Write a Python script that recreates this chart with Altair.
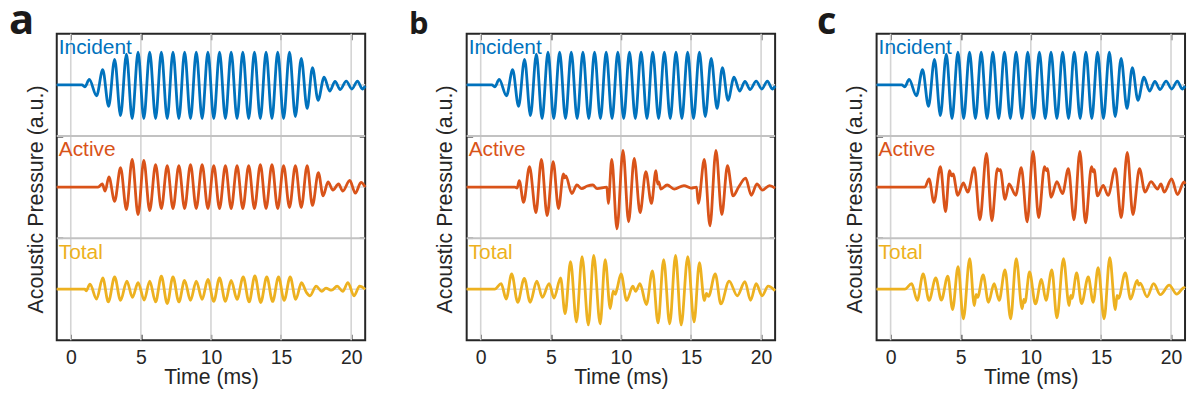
import altair as alt
import pandas as pd

# ---------------- data ----------------
TIME_TICKS = [0, 5, 10, 15, 20]
BAND_EDGES = [1, 2]
BAND_CENTERS = [0.5, 1.5, 2.5]
TRACES = ["Incident", "Active", "Total"]
TRACE_BASE = [2.5, 1.5, 0.5]
TRACE_TOP = [3, 2, 1]
TRACE_COLORS = ["#0072BD", "#D95319", "#EDB120"]
PANELS = ["a", "b", "c"]

# (time in ms, pressure in units of one band height) at the turning points
INCIDENT = [
    (-1.0, 0.0), (0.8, 0.0), (1.0, -0.02), (1.32, 0.054), (1.84, -0.106), (2.28, 0.15),
    (2.70, -0.21), (3.13, 0.25), (3.55, -0.30), (3.97, 0.30), (4.38, -0.33), (4.80, 0.32),
    (5.21, -0.33), (5.63, 0.32), (6.05, -0.33), (6.46, 0.32), (6.88, -0.33), (7.29, 0.32),
    (7.71, -0.33), (8.12, 0.32), (8.54, -0.33), (8.95, 0.32), (9.37, -0.33), (9.78, 0.32),
    (10.20, -0.33), (10.61, 0.32), (11.03, -0.33), (11.44, 0.32), (11.86, -0.33), (12.27, 0.32),
    (12.69, -0.33), (13.10, 0.32), (13.52, -0.33), (13.93, 0.32), (14.35, -0.33), (14.76, 0.32),
    (15.18, -0.33), (15.60, 0.32), (16.02, -0.31), (16.44, 0.26), (16.86, -0.23), (17.24, 0.17),
    (17.64, -0.15), (18.07, 0.075), (18.47, -0.06), (18.85, 0.035), (19.22, -0.045), (19.65, 0.038),
    (20.05, -0.04), (20.45, 0.038), (20.80, -0.04), (21.0, -0.01),
]

ACTIVE_A = [
    (-1.0, 0.0), (1.95, 0.0), (2.25, 0.03), (2.45, -0.04), (2.72, 0.10), (3.13, -0.14),
    (3.55, 0.19), (3.97, -0.22), (4.38, 0.27), (4.80, -0.27), (5.21, 0.26), (5.63, -0.23),
    (6.05, 0.22), (6.46, -0.21), (6.88, 0.21), (7.29, -0.21), (7.71, 0.21), (8.12, -0.21),
    (8.54, 0.22), (8.95, -0.21), (9.37, 0.22), (9.78, -0.21), (10.20, 0.21), (10.61, -0.21),
    (11.03, 0.21), (11.44, -0.21), (11.86, 0.21), (12.27, -0.21), (12.69, 0.21), (13.10, -0.21),
    (13.52, 0.22), (13.93, -0.21), (14.35, 0.22), (14.76, -0.21), (15.18, 0.21), (15.60, -0.20),
    (16.02, 0.21), (16.44, -0.20), (16.86, 0.21), (17.24, -0.18), (17.66, 0.14), (18.0, -0.085),
    (18.35, 0.05), (18.7, -0.03), (19.1, 0.03), (19.4, -0.04), (19.9, 0.065), (20.3, -0.06),
    (20.7, 0.045), (21.0, 0.0),
]

TOTAL_A = [
    (-1.0, 0.0), (1.0, 0.0), (1.1, -0.015), (1.37, 0.05), (1.84, -0.096), (2.28, 0.11),
    (2.68, -0.125), (3.13, 0.12), (3.55, -0.11), (4.0, 0.08), (4.40, -0.08), (4.80, 0.064),
    (5.24, -0.106), (5.63, 0.08), (6.05, -0.125), (6.46, 0.128), (6.88, -0.14), (7.29, 0.12),
    (7.71, -0.125), (8.12, 0.087), (8.54, -0.11), (8.95, 0.08), (9.37, -0.10), (9.78, 0.096),
    (10.20, -0.12), (10.61, 0.11), (11.03, -0.12), (11.44, 0.087), (11.86, -0.10), (12.30, 0.12),
    (12.72, -0.125), (13.13, 0.13), (13.55, -0.13), (13.98, 0.12), (14.40, -0.12), (14.82, 0.12),
    (15.22, -0.11), (15.65, 0.12), (16.05, -0.10), (16.46, 0.064), (16.80, -0.03), (17.06, -0.064),
    (17.5, 0.03), (17.9, -0.02), (18.2, 0.01), (18.6, -0.01), (19.0, 0.03), (19.4, -0.02),
    (19.77, 0.065), (20.2, -0.065), (20.6, 0.03), (21.0, 0.0),
]

ACTIVE_B = [
    (-1.0, 0.0), (2.45, 0.0), (2.6, -0.01), (2.75, 0.064), (3.06, -0.15), (3.48, 0.20),
    (3.94, -0.25), (4.33, 0.27), (4.74, -0.28), (5.17, 0.25), (5.55, -0.21), (5.90, 0.13),
    (6.0, 0.09), (6.07, 0.11), (6.50, -0.064), (6.86, 0.02), (7.2, -0.015), (7.6, 0.01),
    (8.0, 0.02), (8.3, -0.015), (9.0, 0.0), (9.10, -0.16), (9.35, 0.27), (9.72, -0.41),
    (10.15, 0.36), (10.55, -0.34), (10.95, 0.28), (11.37, -0.25), (11.78, 0.15), (12.18, -0.16),
    (12.50, 0.16), (12.62, 0.03), (12.70, 0.05), (12.85, -0.02), (13.3, 0.02), (13.8, -0.02),
    (14.5, 0.015), (15.0, -0.01), (15.4, 0.0), (15.52, -0.16), (15.95, 0.27), (16.35, -0.38),
    (16.78, 0.36), (17.20, -0.27), (17.60, 0.21), (18.0, -0.087), (18.4, 0.0), (18.9, 0.087),
    (19.3, -0.08), (19.7, 0.03), (20.1, -0.03), (20.6, 0.015), (21.0, -0.01),
]

TOTAL_B = [
    (-1.0, 0.0), (1.0, 0.0), (1.46, 0.054), (1.82, -0.096), (2.21, 0.15), (2.64, -0.128),
    (3.11, 0.106), (3.53, -0.128), (4.0, 0.08), (4.40, -0.08), (4.88, 0.054), (5.23, -0.087),
    (5.70, 0.11), (6.02, -0.24), (6.41, 0.27), (6.83, -0.32), (7.23, 0.32), (7.68, -0.35),
    (8.06, 0.33), (8.52, -0.34), (8.88, 0.29), (9.24, -0.19), (9.45, -0.02), (9.6, -0.05),
    (9.72, 0.0), (10.01, 0.15), (10.41, -0.11), (10.85, 0.03), (11.05, -0.02), (11.36, 0.054),
    (11.82, -0.15), (12.25, 0.18), (12.65, -0.33), (13.05, 0.29), (13.48, -0.34), (13.90, 0.33),
    (14.30, -0.35), (14.77, 0.32), (15.22, -0.32), (15.60, 0.26), (15.95, -0.11), (16.1, -0.04),
    (16.25, -0.07), (16.73, 0.15), (17.13, -0.144), (17.72, 0.08), (18.3, -0.064), (18.85, 0.074),
    (19.25, -0.11), (19.65, 0.054), (20.07, -0.064), (20.5, 0.03), (21.0, -0.016),
]

ACTIVE_C = [
    (-1.0, 0.0), (2.44, 0.0), (2.74, 0.08), (3.09, -0.15), (3.55, 0.20), (3.92, -0.24),
    (4.20, 0.16), (4.35, 0.11), (4.45, 0.13), (4.79, -0.08), (5.19, 0.04), (5.50, -0.05),
    (5.97, 0.19), (6.37, -0.32), (6.84, 0.33), (7.22, -0.33), (7.62, 0.18), (7.75, 0.16),
    (7.82, 0.17), (8.16, -0.12), (8.45, 0.03), (8.92, -0.08), (9.32, 0.19), (9.74, -0.34),
    (10.16, 0.35), (10.56, -0.30), (10.98, 0.20), (11.1, 0.16), (11.18, 0.18), (11.45, -0.10),
    (11.86, 0.054), (12.26, -0.064), (12.68, 0.18), (13.08, -0.32), (13.50, 0.35), (13.90, -0.35),
    (14.33, 0.20), (14.45, 0.15), (14.52, 0.17), (14.75, -0.087), (15.16, 0.016), (15.51, -0.08),
    (16.03, 0.18), (16.45, -0.30), (16.88, 0.34), (17.28, -0.27), (17.75, 0.18), (18.15, -0.05),
    (18.57, 0.054), (19.04, -0.02), (19.28, 0.03), (19.52, -0.05), (20.04, 0.08), (20.46, -0.074),
    (20.93, 0.05), (21.0, 0.03),
]

TOTAL_C = [
    (-1.0, 0.0), (1.02, 0.0), (1.5, 0.054), (1.9, -0.11), (2.32, 0.15), (2.74, -0.11),
    (3.22, 0.11), (3.62, -0.106), (4.08, 0.128), (4.42, -0.20), (4.81, 0.22), (5.19, -0.29),
    (5.64, 0.30), (5.97, -0.16), (6.10, -0.05), (6.2, -0.08), (6.6, 0.14), (6.98, -0.128),
    (7.38, 0.054), (7.74, -0.11), (8.16, 0.19), (8.56, -0.29), (8.96, 0.30), (9.38, -0.19),
    (9.50, -0.10), (9.58, -0.13), (9.91, 0.17), (10.33, -0.144), (10.76, 0.096), (11.08, -0.11),
    (11.50, 0.19), (11.86, -0.28), (12.33, 0.30), (12.73, -0.16), (12.85, -0.06), (12.93, -0.09),
    (13.27, 0.16), (13.62, -0.14), (14.1, 0.12), (14.45, -0.128), (14.80, 0.21), (15.23, -0.29),
    (15.63, 0.31), (16.03, -0.20), (16.15, -0.06), (16.25, -0.09), (16.74, 0.16), (17.12, -0.096),
    (17.58, 0.087), (17.7, 0.04), (17.8, 0.06), (18.29, -0.074), (18.76, 0.054), (19.24, -0.054),
    (19.87, 0.04), (20.41, -0.048), (20.93, 0.016), (21.0, 0.01),
]

LETTER_SIZES = [42, 31, 38]
LETTER_DX = [-48, -58, -60]

# ---------------- styling ----------------
FONT = "Liberation Sans"
INK = "#262626"
W, H = 310, 308


def build(letter, active, total, letter_dx, letter_size):
    rows = []
    for name, base, pts in zip(TRACES, TRACE_BASE, [INCIDENT, active, total]):
        for t, v in pts:
            rows.append({"t": t, "p": base + v, "trace": name})
    waves = pd.DataFrame(rows)
    labels = pd.DataFrame({"trace": TRACES, "t": [-1, -1, -1], "p": TRACE_TOP})

    xs = alt.Scale(domain=[-1, 21], nice=False, zero=False)
    ys = alt.Scale(domain=[0, 3], nice=False, zero=False)
    cs = alt.Scale(domain=TRACES, range=TRACE_COLORS)

    bottom_axis = alt.Axis(
        orient="bottom", values=TIME_TICKS, title="Time (ms)", domain=False, grid=False,
        tickSize=6, tickWidth=1.5, tickColor=INK, offset=-6, labelPadding=8,
        labelFont=FONT, labelFontSize=19.5, labelColor=INK,
        titleFont=FONT, titleFontSize=21.3, titleFontWeight="normal", titleColor=INK,
        titlePadding=0, labelFlush=False, minExtent=0,
    )
    top_axis = alt.Axis(
        orient="top", values=TIME_TICKS, title=None, labels=False, domain=False, grid=False,
        tickSize=6, tickWidth=1.5, tickColor=INK, offset=-6, minExtent=0, maxExtent=0,
    )
    left_axis = alt.Axis(
        orient="left", values=BAND_EDGES, title="Acoustic Pressure (a.u.)", labels=False,
        domain=False, grid=False, tickSize=6, tickWidth=1.5, tickColor=INK, offset=-6,
        titleFont=FONT, titleFontSize=21.5, titleFontWeight="normal", titleColor=INK,
        titlePadding=9, minExtent=0, maxExtent=200, titleY=166,
    )
    right_axis = alt.Axis(
        orient="right", values=BAND_EDGES, title=None, labels=False, domain=False, grid=False,
        tickSize=6, tickWidth=1.5, tickColor=INK, offset=-6, minExtent=0, maxExtent=0,
    )

    vgrid = alt.Chart(pd.DataFrame({"t": TIME_TICKS})).mark_rule(
        color="#d4d4d4", strokeWidth=1.6
    ).encode(x=alt.X("t:Q", scale=xs, axis=bottom_axis))

    cgrid = alt.Chart(pd.DataFrame({"p": BAND_CENTERS})).mark_rule(
        color="#dadada", strokeWidth=1.6
    ).encode(y=alt.Y("p:Q", scale=ys, axis=None))

    egrid = alt.Chart(pd.DataFrame({"p": BAND_EDGES})).mark_rule(
        color="#c2c2c2", strokeWidth=2
    ).encode(y=alt.Y("p:Q", scale=ys, axis=left_axis))

    lines = alt.Chart(waves).mark_line(
        interpolate="monotone", strokeWidth=2.8
    ).encode(
        x=alt.X("t:Q", scale=xs, axis=top_axis),
        y=alt.Y("p:Q", scale=ys, axis=right_axis),
        color=alt.Color("trace:N", scale=cs, legend=None),
        detail="trace:N",
    )

    text = alt.Chart(labels).mark_text(
        align="left", baseline="alphabetic", dx=2, dy=20.5, fontSize=21, font=FONT
    ).encode(
        x=alt.X("t:Q", scale=xs, axis=None),
        y=alt.Y("p:Q", scale=ys, axis=None),
        text="trace:N",
        color=alt.Color("trace:N", scale=cs, legend=None),
    )

    tag = alt.Chart(pd.DataFrame({"letter": [letter], "t": [-1], "p": [3]})).mark_text(
        align="left", baseline="alphabetic", dx=letter_dx, dy=0, fontSize=letter_size,
        font="Open Sans", fontWeight="bold", color="#1a1a1a",
    ).encode(
        x=alt.X("t:Q", scale=xs, axis=None),
        y=alt.Y("p:Q", scale=ys, axis=None),
        text="letter:N",
    )

    return alt.layer(vgrid, cgrid, egrid, lines, text, tag).resolve_axis(
        x="independent", y="independent"
    ).properties(width=W, height=H)


chart = alt.hconcat(
    build(PANELS[0], ACTIVE_A, TOTAL_A, LETTER_DX[0], LETTER_SIZES[0]),
    build(PANELS[1], ACTIVE_B, TOTAL_B, LETTER_DX[1], LETTER_SIZES[1]),
    build(PANELS[2], ACTIVE_C, TOTAL_C, LETTER_DX[2], LETTER_SIZES[2]),
    spacing=102,
    bounds="flush",
).properties(padding={"top": -10, "left": 0, "right": 0, "bottom": 0}).configure_view(
    stroke=INK, strokeWidth=2
)

chart.save("out.html", embed_options={"renderer": "svg", "actions": False})
